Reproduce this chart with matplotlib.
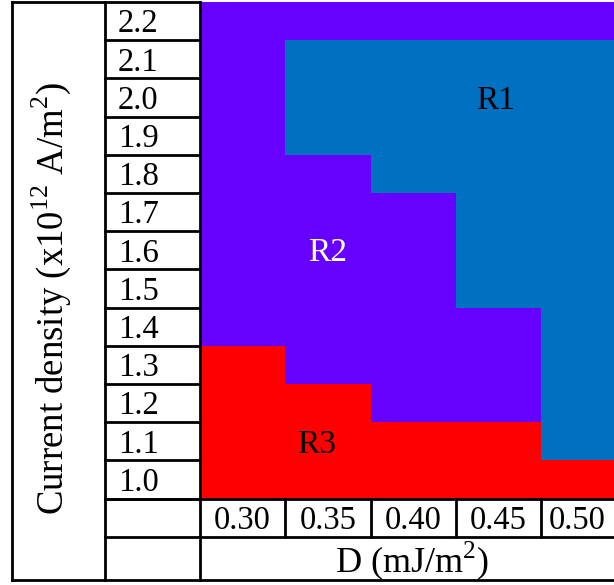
import numpy as np
import matplotlib.pyplot as plt
from matplotlib.colors import ListedColormap

# phase diagram: current density (rows) vs D (columns)
current_density = ['2.2', '2.1', '2.0', '1.9', '1.8', '1.7', '1.6',
                   '1.5', '1.4', '1.3', '1.2', '1.1', '1.0']
d_values = ['0.30', '0.35', '0.40', '0.45', '0.50']

# 0 = R1, 1 = R2, 2 = R3 ; rows top (2.2) to bottom (1.0)
phase = [
    [1, 1, 1, 1, 1],
    [1, 0, 0, 0, 0],
    [1, 0, 0, 0, 0],
    [1, 0, 0, 0, 0],
    [1, 1, 0, 0, 0],
    [1, 1, 1, 0, 0],
    [1, 1, 1, 0, 0],
    [1, 1, 1, 0, 0],
    [1, 1, 1, 1, 0],
    [2, 1, 1, 1, 0],
    [2, 2, 1, 1, 0],
    [2, 2, 2, 2, 0],
    [2, 2, 2, 2, 2],
]
region_labels = ['R1', 'R2', 'R3']
# label positions in (column, row) units
label_pos = [(3.47, 2.54), (1.49, 6.52), (1.37, 11.54)]
label_colors = ['black', 'white', 'black']
phase_colors = ['#0070C0', '#6600FF', '#FF0000']

plt.rcParams['font.family'] = 'Liberation Serif'
plt.rcParams['mathtext.fontset'] = 'custom'
plt.rcParams['mathtext.rm'] = 'Liberation Serif'

fig = plt.figure(figsize=(6.14, 5.85), dpi=100)
ax = fig.add_axes([0, 0, 1, 1])
ax.set_xlim(0, 614)
ax.set_ylim(585, 0)
ax.axis('off')

# layout in pixels
x_left, x_c1, x_c2 = 12, 105, 200
y_top, cw, rh = 2, 85.3, 38.2
n_rows, n_cols = len(current_density), len(d_values)
y_grid_bot = y_top + n_rows * rh
y_tick_bot = y_grid_bot + 38
y_bot = 580

xe = x_c2 + cw * np.arange(n_cols + 1)
ye = y_top + rh * np.arange(n_rows + 1)
ax.pcolormesh(xe, ye, np.array(phase), cmap=ListedColormap(phase_colors),
              vmin=-0.5, vmax=2.5, zorder=1)

for name, (cx, cy), c in zip(region_labels, label_pos, label_colors):
    ax.text(x_c2 + cx * cw, y_top + cy * rh + 2, name, color=c, fontsize=24,
            ha='center', va='center', zorder=3)

lw = 2.0
kw = dict(color='black', lw=lw, zorder=4, solid_capstyle='projecting')
# outer frame and column separators
ax.plot([x_left, x_left], [y_top, y_bot], **kw)
ax.plot([x_left, x_c2], [y_top, y_top], **kw)
ax.plot([x_left, 614], [y_bot, y_bot], **kw)
ax.plot([x_c1, x_c1], [y_top, y_bot], **kw)
ax.plot([x_c2, x_c2], [y_top, y_bot], **kw)
# row separators for current density column
for y in ye[1:]:
    ax.plot([x_c1, x_c2], [y, y], **kw)
ax.plot([x_c1, 614], [y_grid_bot, y_grid_bot], **kw)
ax.plot([x_c1, 614], [y_tick_bot, y_tick_bot], **kw)
for x in xe[1:-1]:
    ax.plot([x, x], [y_grid_bot, y_tick_bot], **kw)

fs = 23.5
for i, lab in enumerate(current_density):
    ax.text(118, y_top + (i + 0.5) * rh + 3, lab,
            fontsize=fs, ha='left', va='center', zorder=5)
for j, lab in enumerate(d_values):
    xc = x_c2 + (j + 0.5) * cw
    if j == n_cols - 1:
        xc = (xe[j] + 614) / 2
    ax.text(xc, (y_grid_bot + y_tick_bot) / 2 + 3, lab,
            fontsize=fs, ha='center', va='center', zorder=5)

ax.text(412, (y_tick_bot + y_bot) / 2 + 2, r'D (mJ/m$^2$)',
        fontsize=26, ha='center', va='center')
ax.text(51, 299, r'Current density (x10$^{12}$ A/m$^2$)', fontsize=26.5,
        rotation=90, ha='center', va='center')

fig.savefig('out.png', dpi=100)
